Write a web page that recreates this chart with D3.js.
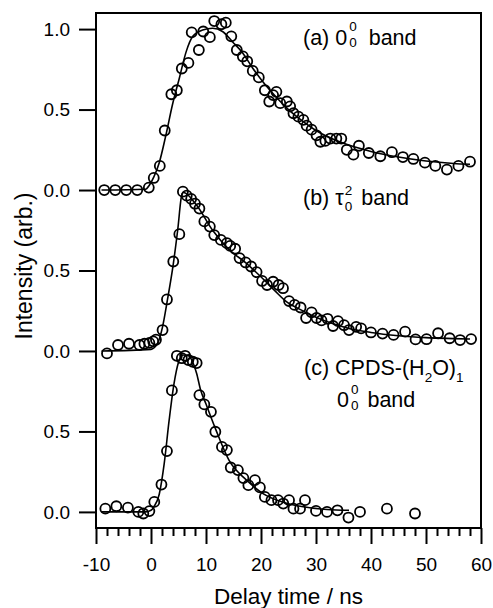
<!DOCTYPE html>
<html>
<head>
<meta charset="utf-8">
<script src="https://cdn.jsdelivr.net/npm/d3@7"></script>
<style>
  body { margin: 0; background: #fff; }
  svg { display: block; font-family: "Liberation Sans", Arial, sans-serif; }
</style>
</head>
<body>
<svg id="chart" width="493" height="608"></svg>
<script>
// measured points, [delay ns, intensity]
const bandA = [
  [-8.5, 0], [-6.5, 0], [-4.5, 0], [-2.5, 0], [-0.4, 0.015], [0.5, 0.075], [1.6, 0.15],
  [2.5, 0.37], [3.7, 0.595], [4.7, 0.62], [5.6, 0.755], [6.8, 0.79], [7.4, 0.98],
  [8.7, 0.87], [9.5, 0.985], [10.7, 0.95], [11.5, 1.05], [12.8, 1.03], [13.6, 1.04],
  [14.6, 0.955], [15.6, 0.87], [16.7, 0.83], [17.5, 0.8], [18.5, 0.74], [19.6, 0.7],
  [20.7, 0.62], [21.5, 0.55], [22.2, 0.59], [22.8, 0.61], [23.5, 0.54], [24.7, 0.55],
  [25.3, 0.52], [25.9, 0.477], [26.8, 0.456], [27.7, 0.436], [28.3, 0.4], [29.2, 0.375],
  [30.1, 0.34], [30.8, 0.3], [31.7, 0.305], [32.6, 0.32], [33.7, 0.32], [34.6, 0.32],
  [35.6, 0.25], [36.8, 0.22], [37.8, 0.275], [39.6, 0.23], [41.7, 0.21], [43.8, 0.235],
  [45.8, 0.205], [47.7, 0.193], [49.8, 0.17], [51.7, 0.15], [53.8, 0.127], [55.9, 0.15],
  [58, 0.176]
];
const bandB = [
  [-8, -0.015], [-6, 0.037], [-4, 0.045], [-2.1, 0.037], [-1.2, 0.045], [-0.3, 0.05],
  [0.4, 0.06], [0.9, 0.07], [2.1, 0.13], [2.9, 0.32], [4.05, 0.556], [5.15, 0.726],
  [5.8, 0.99], [6.5, 0.965], [7.3, 0.945], [8, 0.915], [8.8, 0.885], [9.7, 0.805],
  [10.7, 0.773], [11.5, 0.72], [12.7, 0.69], [13.8, 0.67], [14.4, 0.653], [15.3, 0.635],
  [16.1, 0.577], [17.2, 0.55], [18.2, 0.525], [19.2, 0.49], [20.2, 0.435], [21.1, 0.41],
  [22.2, 0.43], [23.2, 0.41], [24, 0.39], [25.1, 0.31], [26.1, 0.286], [27.2, 0.27],
  [28.2, 0.205], [29.2, 0.24], [30.1, 0.205], [31, 0.19], [32.1, 0.2], [33.1, 0.155],
  [34, 0.185], [35.1, 0.16], [36, 0.13], [37.3, 0.15], [38.2, 0.14], [40, 0.115],
  [42.1, 0.108], [44.1, 0.1], [46.2, 0.12], [48.1, 0.072], [50.1, 0.073], [52.2, 0.11],
  [54.3, 0.079], [56.2, 0.068], [58.2, 0.074]
];
const bandC = [
  [-8.3, 0.02], [-6.3, 0.035], [-4.2, 0.027], [-2.3, 0], [-1.4, -0.01], [-0.3, 0.005],
  [0.6, 0.062], [1.9, 0.17], [2.9, 0.378], [3.8, 0.755], [4.7, 0.97], [5.6, 0.955],
  [6.2, 0.97], [6.8, 0.944], [7.6, 0.933], [8.3, 0.925], [8.8, 0.726], [9.7, 0.668],
  [10.9, 0.622], [11.7, 0.498], [12.9, 0.404], [13.8, 0.384], [14.5, 0.276], [15.8, 0.26],
  [16.8, 0.21], [17.7, 0.166], [18.9, 0.197], [19.8, 0.152], [20.7, 0.093], [21.9, 0.073],
  [23.1, 0.073], [24.05, 0.052], [25.1, 0.073], [25.9, 0.02], [27.1, 0.02], [28, 0.073],
  [30, 0.006], [32, 0], [33.9, 0.01], [35.9, -0.035], [38, 0], [42.9, 0.02], [48, -0.01]
];

// fitted curves
const fitA = [
  [-9, 0], [-1, 0.005], [-0.3, 0.03], [0.5, 0.08], [1.5, 0.17], [2.7, 0.34], [3.9, 0.53],
  [5.15, 0.695], [6.4, 0.86], [7.6, 0.955], [9.4, 0.995], [11.2, 1.005], [13, 0.985],
  [14.85, 0.92], [16.7, 0.85], [18.5, 0.757], [20.3, 0.674], [22.7, 0.58], [25, 0.5],
  [27.5, 0.43], [30, 0.37], [35, 0.29], [40, 0.24], [45, 0.205], [50, 0.18], [55, 0.165],
  [58, 0.16]
];
const fitB = [
  [-9, 0], [0, 0.01], [1.2, 0.048], [2.1, 0.15], [3, 0.32], [4.05, 0.54], [4.85, 0.75],
  [5.6, 0.97], [5.9, 0.985], [8.2, 0.91], [11.2, 0.75], [14.2, 0.63], [17.3, 0.546],
  [20.3, 0.45], [22.5, 0.375], [24.5, 0.31], [27, 0.26], [30, 0.21], [33, 0.17],
  [36, 0.14], [40, 0.115], [45, 0.095], [50, 0.083], [55, 0.077], [58, 0.074]
];
const fitC = [
  [-9, 0], [-1, 0], [0, 0.01], [0.5, 0.03], [1.5, 0.11], [2.4, 0.3], [3.3, 0.57],
  [4.2, 0.8], [5, 0.93], [5.8, 0.975], [6.8, 0.97], [7.6, 0.93], [8.3, 0.86], [9, 0.76],
  [10, 0.67], [11.8, 0.51], [14.2, 0.32], [17.3, 0.2], [20.3, 0.115], [24.5, 0.055],
  [28, 0.03], [32, 0.015], [36, 0.01]
];

// each trace is stacked one unit above the one below it
const panels = [
  { data: bandA, fit: fitA, offset: 2 },
  { data: bandB, fit: fitB, offset: 1 },
  { data: bandC, fit: fitC, offset: 0 }
];

const xMajor = [-10, 0, 10, 20, 30, 40, 50, 60];
const xMinor = d3.range(-8, 60, 2).filter(v => v % 10 !== 0);
const yTicks = [0, 0.5, 1, 1.5, 2, 2.5, 3];
const yTickLabels = ["0.0", "0.5", "0.0", "0.5", "0.0", "0.5", "1.0"];

const svg = d3.select("#chart");
const mLeft = 96, mRight = 481, mTop = 13, mBottom = 528;

const x = d3.scaleLinear().domain([-10, 60]).range([mLeft, mRight]);
const y = d3.scaleLinear().domain([-0.1, 3.1]).range([mBottom, mTop]);

// x axis (plain hyphen for negatives, like the original)
svg.append("g").attr("transform", `translate(0,${mBottom})`)
  .call(d3.axisBottom(x).tickValues(xMajor).tickSize(16).tickPadding(14)
    .tickFormat(d => String(d)));
svg.append("g").attr("transform", `translate(0,${mBottom})`)
  .call(d3.axisBottom(x).tickValues(xMinor).tickSize(8).tickFormat(""));

// y axis
svg.append("g").attr("transform", `translate(${mLeft},0)`)
  .call(d3.axisLeft(y).tickValues(yTicks).tickSize(17).tickPadding(9)
    .tickFormat((d, i) => yTickLabels[i]));

svg.selectAll(".domain").remove();
svg.selectAll(".tick line").attr("stroke", "#000").attr("stroke-width", 2);
svg.selectAll(".tick text").attr("fill", "#000").attr("font-size", 19)
  .attr("font-family", "'Liberation Sans', Arial, sans-serif");

svg.append("rect")
  .attr("x", mLeft).attr("y", mTop)
  .attr("width", mRight - mLeft).attr("height", mBottom - mTop)
  .attr("fill", "none").attr("stroke", "#000").attr("stroke-width", 2);

const line = d3.line().curve(d3.curveMonotoneX);

panels.forEach(p => {
  svg.append("path")
    .attr("d", line(p.fit.map(d => [x(d[0]), y(d[1] + p.offset)])))
    .attr("fill", "none").attr("stroke", "#000").attr("stroke-width", 1.6);

  svg.append("g").selectAll("circle")
    .data(p.data).join("circle")
    .attr("cx", d => x(d[0]))
    .attr("cy", d => y(d[1] + p.offset))
    .attr("r", 5)
    .attr("fill", "none")
    .attr("stroke", "#000")
    .attr("stroke-width", 1.8);
});

// axis titles
svg.append("text")
  .attr("x", (mLeft + mRight) / 2).attr("y", 604)
  .attr("text-anchor", "middle").attr("font-size", 22.5)
  .text("Delay time / ns");

svg.append("text")
  .attr("transform", "translate(31.5,266) rotate(-90)")
  .attr("text-anchor", "middle").attr("font-size", 23)
  .text("Intensity (arb.)");

// band labels with stacked sub/superscripts
// part: [text, size, baseline shift, dx, stacked under previous]
function label(px, py, parts) {
  const t = svg.append("text").attr("x", px).attr("y", py);
  let shift = 0, prev = null;
  parts.forEach(([txt, size, s, dx, stack]) => {
    const ts = t.append("tspan").attr("font-size", size).attr("dy", s - shift).text(txt);
    let off = dx || 0;
    if (stack && prev) off -= prev.node().getComputedTextLength();
    if (off) ts.attr("dx", off);
    shift = s;
    prev = ts;
  });
}

label(303, 45, [["(a) 0", 21.5, 0], ["0", 13.5, -14.5, 2], ["0", 13.5, 1.5, 0, true], [" band", 21.5, 0, 6]]);
label(303, 205, [["(b) \u03c4", 21.5, 0], ["2", 13.5, -10, 1], ["0", 13.5, 6, 0, true], [" band", 21.5, 0, 3]]);
label(304, 375, [["(c) CPDS-(H", 21.5, 0], ["2", 13.5, 7], ["O)", 21.5, 0], ["1", 13.5, 7]]);
label(337, 407, [["0", 21.5, 0], ["0", 13.5, -13.5, 2], ["0", 13.5, 2.5, 0, true], [" band", 21.5, 0, 3]]);
</script>
</body>
</html>
